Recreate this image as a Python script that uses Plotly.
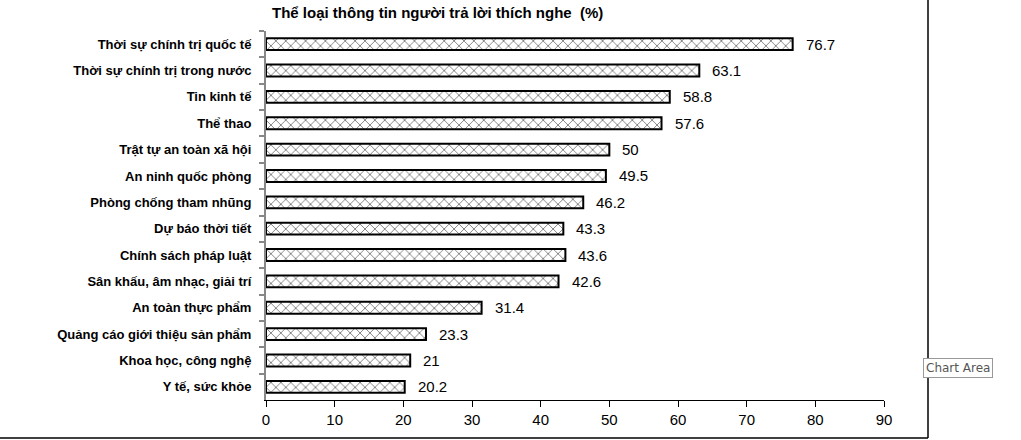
import plotly.graph_objects as go

categories = [
    "Thời sự chính trị quốc tế",
    "Thời sự chính trị trong nước",
    "Tin kinh tế",
    "Thể thao",
    "Trật tự an toàn xã hội",
    "An ninh quốc phòng",
    "Phòng chống tham nhũng",
    "Dự báo thời tiết",
    "Chính sách pháp luật",
    "Sân khấu, âm nhạc, giải trí",
    "An toàn thực phẩm",
    "Quảng cáo giới thiệu sản phẩm",
    "Khoa học, công nghệ",
    "Y tế, sức khỏe",
]
values = [76.7, 63.1, 58.8, 57.6, 50, 49.5, 46.2, 43.3, 43.6, 42.6, 31.4, 23.3, 21, 20.2]
labels = ["76.7", "63.1", "58.8", "57.6", "50", "49.5", "46.2", "43.3", "43.6", "42.6", "31.4", "23.3", "21", "20.2"]
x_ticks = [0, 10, 20, 30, 40, 50, 60, 70, 80, 90]
title = "Thể loại thông tin người trả lời thích nghe  (%)"

FONT = "Liberation Sans"

fig = go.Figure()
fig.add_trace(go.Bar(
    y=categories,
    x=values,
    orientation="h",
    marker=dict(
        color="white",
        line=dict(color="black", width=2),
        pattern=dict(shape="x", fgcolor="black", bgcolor="white", size=7, solidity=0.25),
    ),
    width=0.45,
    hoverinfo="skip",
))

for c, v, t in zip(categories, values, labels):
    fig.add_annotation(x=v, y=c, text=t, showarrow=False, xanchor="left",
                       xshift=11, font=dict(family=FONT, size=15, color="black"))

fig.add_annotation(text=title, xref="paper", yref="paper", x=0.0065, y=1.0,
                   yshift=19, showarrow=False, xanchor="left", yanchor="middle",
                   font=dict(family=FONT, size=15, color="black", weight="bold"))

fig.add_annotation(text="Chart Area", xref="paper", yref="paper", x=1.0636, y=0.0867,
                   showarrow=False, xanchor="left", yanchor="middle",
                   font=dict(family="DejaVu Sans", size=12, color="#555555"),
                   bordercolor="#999999", borderwidth=1, bgcolor="white", borderpad=2)

# chart area border (right and bottom)
fig.add_shape(type="line", xref="paper", yref="paper", x0=1.0712, x1=1.0712, y0=-0.103, y1=1.2,
              line=dict(color="black", width=1.5))
fig.add_shape(type="line", xref="paper", yref="paper", x0=-0.5, x1=1.0712, y0=-0.103, y1=-0.103,
              line=dict(color="black", width=1.5))

fig.update_layout(
    width=1021, height=440,
    margin=dict(l=266, r=137, t=31, b=40),
    paper_bgcolor="white", plot_bgcolor="white",
    showlegend=False,
    font=dict(family=FONT, color="black"),
    xaxis=dict(
        range=[0, 90], tickvals=x_ticks, ticktext=[str(v) for v in x_ticks],
        showgrid=False, zeroline=False, showline=True, linecolor="black", linewidth=1,
        ticks="outside", ticklen=6, tickcolor="black", tickwidth=1,
        tickfont=dict(family=FONT, size=15, color="black"),
    ),
    yaxis=dict(
        autorange="reversed", showgrid=False, showline=True, linecolor="#888888", linewidth=2,
        ticks="outside", ticklen=5, tickcolor="#888888", tickwidth=2,
        tickson="boundaries",
        tickfont=dict(family=FONT, size=13, color="black", weight="bold"),
        ticklabelstandoff=10,
    ),
)

fig.write_html("out.html")
